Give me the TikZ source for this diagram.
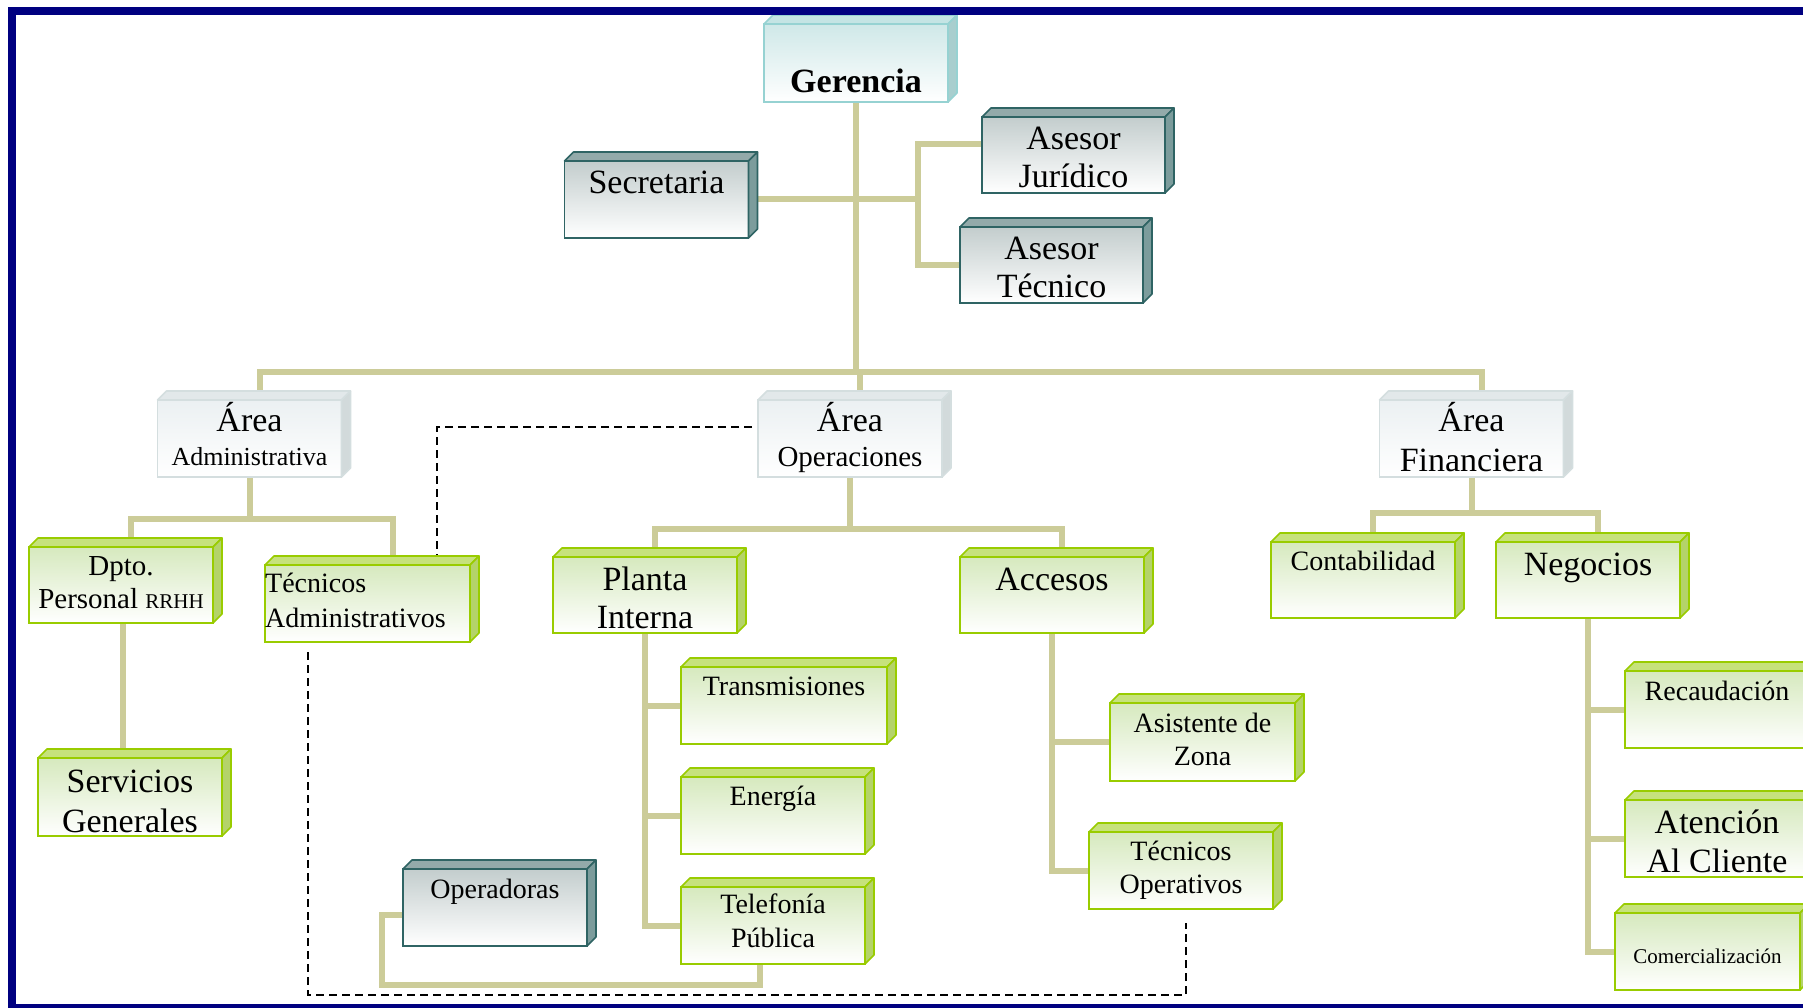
\documentclass[tikz,border=0pt]{standalone}
\usepackage{fontspec}
\setmainfont{Liberation Serif}
\usetikzlibrary{calc}
\pgfdeclarelayer{bg}
\pgfsetlayers{bg,main}

\definecolor{navy}{HTML}{000080}
\definecolor{link}{HTML}{CCCC99}
% dark teal boxes
\definecolor{tealB}{HTML}{2F6464}
\definecolor{tealT}{HTML}{93AAAA}
\definecolor{tealS}{HTML}{7C9C9C}
\definecolor{tealF}{HTML}{C3CDCD}
% green boxes
\definecolor{grnB}{HTML}{99CC00}
\definecolor{grnT}{HTML}{C6E27C}
\definecolor{grnS}{HTML}{B4D36A}
\definecolor{grnF}{HTML}{D6E9BE}
% light grey boxes
\definecolor{gryB}{HTML}{D4DEDF}
\definecolor{gryT}{HTML}{E2E8EA}
\definecolor{gryS}{HTML}{D2DADB}
\definecolor{gryF}{HTML}{EBF0F2}
% cyan box
\definecolor{cyaB}{HTML}{96D2D2}
\definecolor{cyaT}{HTML}{C4E4E4}
\definecolor{cyaS}{HTML}{A8CECE}
\definecolor{cyaF}{HTML}{CFE8E8}

\newcommand\fL{\fontsize{34}{40}\selectfont}
\newcommand\fM{\fontsize{28}{33}\selectfont}
\newcommand\fS{\fontsize{21}{25}\selectfont}

% top and right faces of a 3D box
\newcommand\boxfaces[4]{%
  \filldraw[draw=#2, fill=#3, line width=1.6pt, line join=round]
    (#1.north west) -- ++(9,-9) -- ([shift={(9,-9)}]#1.north east) -- (#1.north east) -- cycle;
  \filldraw[draw=#2, fill=#4, line width=1.6pt, line join=round]
    (#1.north east) -- ++(9,-9) -- ([shift={(9,-9)}]#1.south east) -- (#1.south east) -- cycle;
}

\tikzset{
  box/.style={rectangle, inner sep=0pt, outer sep=0pt, minimum width=184pt,
    minimum height=77pt, line width=1.6pt},
  tealbox/.style={box, draw=tealB, top color=tealF, bottom color=white},
  grnbox/.style={box, draw=grnB, top color=grnF, bottom color=white},
  grybox/.style={box, draw=gryB, top color=gryF, bottom color=white},
  cyabox/.style={box, draw=cyaB, top color=cyaF, bottom color=white},
  conn/.style={draw=link, line width=6pt},
  dashlink/.style={draw=black, line width=1.6pt, dash pattern=on 8pt off 5pt},
  lbl/.style={anchor=base, inner sep=0pt, text=black},
  lblw/.style={anchor=base west, inner sep=0pt, text=black},
}

\begin{document}
\begin{tikzpicture}[x=1pt, y=-1pt]
\useasboundingbox (0,0) rectangle (1803,1008);

% ---- boxes ----
\node[cyabox, minimum height=78pt] (ger) at (856,63) {};
\node[tealbox] (sec) at (656.5,199.5) {};
\node[tealbox, minimum width=183pt, minimum height=76pt] (jur) at (1073.5,155) {};
\node[tealbox, minimum width=183pt, minimum height=76pt] (tec) at (1051.5,265) {};
\node[grybox] (adm) at (249.5,438.5) {};
\node[grybox] (ope) at (850,438.5) {};
\node[grybox] (fin) at (1471.5,438.5) {};
\node[grnbox, minimum height=76pt] (dpt) at (121,585) {};
\node[grnbox, minimum width=205pt] (tad) at (367.5,603.5) {};
\node[grnbox, minimum height=76pt] (pla) at (645,595) {};
\node[grnbox, minimum height=76pt] (acc) at (1052,595) {};
\node[grnbox, minimum height=76pt] (con) at (1363,580) {};
\node[grnbox, minimum height=76pt] (neg) at (1588,580) {};
\node[grnbox, minimum height=78pt] (ser) at (130,797) {};
\node[grnbox, minimum width=206pt] (tra) at (784,705.5) {};
\node[grnbox] (ene) at (773,815.5) {};
\node[grnbox] (tel) at (773,925.5) {};
\node[tealbox] (opr) at (495,907.5) {};
\node[grnbox, minimum width=185pt, minimum height=78pt] (asi) at (1202.5,742) {};
\node[grnbox] (tco) at (1181,870.5) {};
\node[grnbox] (rec) at (1717,709.5) {};
\node[grnbox] (ate) at (1717,838.5) {};
\node[grnbox, minimum width=185pt] (com) at (1707.5,951.5) {};

\boxfaces{ger}{cyaB}{cyaT}{cyaS}
\foreach \n in {sec,jur,tec,opr} {\boxfaces{\n}{tealB}{tealT}{tealS}}
\foreach \n in {adm,ope,fin} {\boxfaces{\n}{gryB}{gryT}{gryS}}
\foreach \n in {dpt,tad,pla,acc,con,neg,ser,tra,ene,tel,asi,tco,rec,ate,com}
  {\boxfaces{\n}{grnB}{grnT}{grnS}}

% ---- labels ----
\node[lbl, font=\fL\bfseries] (l-ger) at (856,93) {Gerencia};
\node[lbl, font=\fL] (l-sec) at (656.5,194) {Secretaria};
\node[lbl, font=\fL] (l-jur1) at (1073.5,150) {Asesor};
\node[lbl, font=\fL] (l-jur2) at (1073.5,188) {Jurídico};
\node[lbl, font=\fL] (l-tec1) at (1051.5,260) {Asesor};
\node[lbl, font=\fL] (l-tec2) at (1051.5,298) {Técnico};
\node[lbl, font=\fL] (l-adm1) at (249.5,431) {Área};
\node[lbl, font=\fontsize{26}{30}\selectfont] (l-adm2) at (249.5,465) {Administrativa};
\node[lbl, font=\fL] (l-ope1) at (850,431) {Área};
\node[lbl, font=\fontsize{29}{34}\selectfont] (l-ope2) at (850,466) {Operaciones};
\node[lbl, font=\fL] (l-fin1) at (1471.5,431) {Área};
\node[lbl, font=\fL] (l-fin2) at (1471.5,471) {Financiera};
\node[lbl, font=\fontsize{29}{34}\selectfont] (l-dpt1) at (121,575) {Dpto.};
\node[lbl, font=\fontsize{29}{34}\selectfont] (l-dpt2) at (121,608) {Personal {\fS RRHH}};
\node[lblw, font=\fM] (l-tad1) at (265,592) {Técnicos};
\node[lblw, font=\fM] (l-tad2) at (265,627) {Administrativos};
\node[lbl, font=\fL] (l-pla1) at (645,590) {Planta};
\node[lbl, font=\fL] (l-pla2) at (645,628) {Interna};
\node[lbl, font=\fL] (l-acc) at (1052,590) {Accesos};
\node[lbl, font=\fM] (l-con) at (1363,570) {Contabilidad};
\node[lbl, font=\fL] (l-neg) at (1588,575) {Negocios};
\node[lbl, font=\fL] (l-ser1) at (130,792) {Servicios};
\node[lbl, font=\fL] (l-ser2) at (130,832) {Generales};
\node[lbl, font=\fM] (l-tra) at (784,695) {Transmisiones};
\node[lbl, font=\fM] (l-ene) at (773,805) {Energía};
\node[lbl, font=\fM] (l-tel1) at (773,913) {Telefonía};
\node[lbl, font=\fM] (l-tel2) at (773,947) {Pública};
\node[lbl, font=\fM] (l-opr) at (495,898) {Operadoras};
\node[lbl, font=\fM] (l-asi1) at (1202.5,732) {Asistente de};
\node[lbl, font=\fM] (l-asi2) at (1202.5,765) {Zona};
\node[lbl, font=\fM] (l-tco1) at (1181,860) {Técnicos};
\node[lbl, font=\fM] (l-tco2) at (1181,893) {Operativos};
\node[lbl, font=\fM] (l-rec) at (1717,700) {Recaudación};
\node[lbl, font=\fL] (l-ate1) at (1717,833) {Atención};
\node[lbl, font=\fL] (l-ate2) at (1717,872) {Al Cliente};
\node[lbl, font=\fS] (l-com) at (1707.5,963) {Comercialización};

% ---- connectors (behind the boxes) ----
\begin{pgfonlayer}{bg}
  \fill[white] (0,0) rectangle (1803,1008);
  \coordinate (bus1) at (0,372);
  \coordinate (bus2) at (0,519);
  \coordinate (bus3) at (0,529);
  \coordinate (bus4) at (0,513);
  \coordinate (brk) at (918,0);
  \coordinate (admT) at ($(adm.north)+(10,0)$);
  \coordinate (opeT) at ($(ope.north)+(10,0)$);
  \coordinate (finT) at ($(fin.north)+(10,0)$);
  \coordinate (dptT) at ($(dpt.north)+(10,0)$);
  \coordinate (tadT) at ($(tad.north)+(25,0)$);
  \coordinate (plaT) at ($(pla.north)+(10,0)$);
  \coordinate (accT) at ($(acc.north)+(10,0)$);
  \coordinate (conT) at ($(con.north)+(10,0)$);
  \coordinate (negT) at ($(neg.north)+(10,0)$);
  \coordinate (jurC) at ($(jur.west)+(0,-11)$);
  \coordinate (oprC) at ($(opr.west)+(0,7.5)$);
  \coordinate (telB) at ($(tel.south)+(-13,0)$);
  \coordinate (dptB) at ($(dpt.south)+(2,0)$);

  % top level
  \draw[conn] (ger.south) -- (ger.south |- bus1);
  \draw[conn] (admT) |- (finT |- bus1) -- (finT);
  \draw[conn] (opeT) -- (opeT |- bus1);
  % staff
  \draw[conn] (sec.east) -- (sec.east -| brk);
  \draw[conn] (jurC) -| (brk |- tec.west) -- (tec.west);
  % administrative area
  \draw[conn] (adm.south) -- (adm.south |- bus2);
  \draw[conn] (dptT) |- (tadT |- bus2) -- (tadT);
  \draw[conn] (dptB) -- (dptB |- ser.north);
  % operations area
  \draw[conn] (ope.south) -- (ope.south |- bus3);
  \draw[conn] (plaT) |- (accT |- bus3) -- (accT);
  \draw[conn] (pla.south) |- (tra.west);
  \draw[conn] (pla.south) |- (ene.west);
  \draw[conn] (pla.south) |- (tel.west);
  \draw[conn] (acc.south) |- (asi.west);
  \draw[conn] (acc.south) |- (tco.west);
  \draw[conn] (oprC) -- ++(-21,0) |- ($(telB)+(0,21)$) -- (telB);
  % financial area
  \draw[conn] (fin.south) -- (fin.south |- bus4);
  \draw[conn] (conT) |- (negT |- bus4) -- (negT);
  \draw[conn] (neg.south) |- (rec.west);
  \draw[conn] (neg.south) |- (ate.west);
  \draw[conn] (neg.south) |- (com.west);
\end{pgfonlayer}

% ---- dashed links ----
\draw[dashlink] ($(ope.west)+(-6,-11.5)$) -| ($(tad.north)+(69.5,-10)$);
\draw[dashlink] ($(tad.south)+(-59.5,10)$) |- ($(tco.south)+(5,86)$) -- ($(tco.south)+(5,14)$);

% ---- frame ----
\draw[navy, line width=8pt] (12,1030) -- (12,11) -- (1830,11);
\draw[navy, line width=8pt] (12,1008) -- (1830,1008);
\end{tikzpicture}
\end{document}
